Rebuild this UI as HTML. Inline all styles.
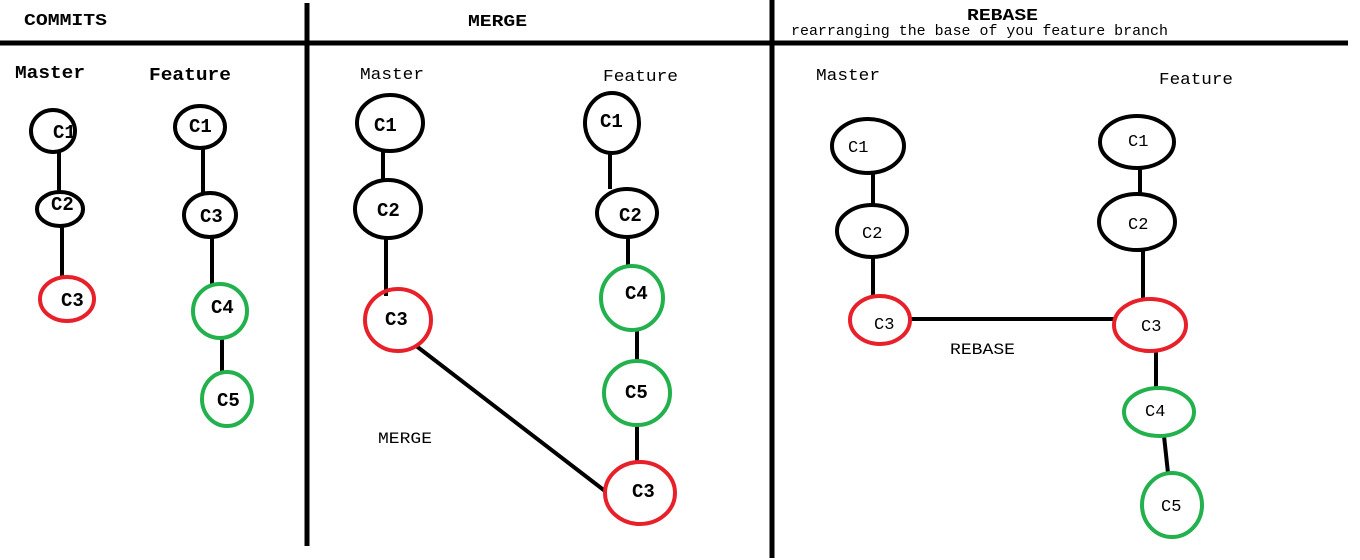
<!DOCTYPE html>
<html><head><style>body{margin:0;background:#fff}svg{display:block}text{font-family:"Liberation Mono","DejaVu Sans Mono",monospace;fill:#000}</style></head>
<body>
<svg width="1360" height="560" viewBox="0 0 1360 560" xmlns="http://www.w3.org/2000/svg">
<g stroke="#000" stroke-width="5" fill="none">
<line x1="0" y1="43" x2="1348" y2="43"/>
<line x1="307" y1="3" x2="307" y2="546"/>
<line x1="772" y1="0" x2="772" y2="558"/>
</g>
<g font-weight="bold" font-size="17">
<text x="24" y="25" textLength="83" lengthAdjust="spacingAndGlyphs">COMMITS</text>
<text x="468" y="26" textLength="59" lengthAdjust="spacingAndGlyphs">MERGE</text>
<text x="967" y="20" textLength="71" lengthAdjust="spacingAndGlyphs">REBASE</text>
<text x="15" y="78" font-size="18" textLength="70" lengthAdjust="spacingAndGlyphs">Master</text>
<text x="149" y="80" font-size="18" textLength="82" lengthAdjust="spacingAndGlyphs">Feature</text>
</g>
<text x="791" y="35" font-size="15" textLength="377" lengthAdjust="spacingAndGlyphs">rearranging the base of you feature branch</text>
<g font-size="17">
<text x="360" y="79" textLength="64" lengthAdjust="spacingAndGlyphs">Master</text>
<text x="603" y="81" textLength="75" lengthAdjust="spacingAndGlyphs">Feature</text>
<text x="816" y="80" textLength="64" lengthAdjust="spacingAndGlyphs">Master</text>
<text x="1159" y="84" textLength="74" lengthAdjust="spacingAndGlyphs">Feature</text>
<text x="378" y="443" font-size="16" textLength="54" lengthAdjust="spacingAndGlyphs">MERGE</text>
<text x="950" y="354" font-size="16" textLength="65" lengthAdjust="spacingAndGlyphs">REBASE</text>
</g>
<g stroke-width="4" fill="none">
<g stroke="#000">
<line x1="59" y1="152" x2="59" y2="192"/><line x1="62" y1="226" x2="62" y2="278"/>
<line x1="203" y1="148" x2="203" y2="194"/><line x1="212" y1="237" x2="212" y2="285"/><line x1="222" y1="338" x2="222" y2="372"/>
<line x1="383" y1="151" x2="383" y2="180"/><line x1="386" y1="238" x2="386" y2="296"/>
<line x1="415" y1="345" x2="605" y2="491"/>
<line x1="610" y1="153" x2="610" y2="189"/><line x1="628" y1="237" x2="628" y2="266"/><line x1="637" y1="330" x2="637" y2="361"/><line x1="637" y1="425" x2="637" y2="462"/>
<line x1="873" y1="173" x2="873" y2="205"/><line x1="873" y1="257" x2="873" y2="296"/>
<line x1="910" y1="319" x2="1115" y2="319"/>
<line x1="1140" y1="168" x2="1140" y2="194"/><line x1="1143" y1="250" x2="1143" y2="300"/><line x1="1156" y1="351" x2="1156" y2="388"/><line x1="1164" y1="436" x2="1168" y2="473"/>
<ellipse cx="53" cy="131" rx="22" ry="21"/><ellipse cx="60" cy="209" rx="23" ry="17"/>
<ellipse cx="200" cy="127" rx="25" ry="21"/><ellipse cx="210" cy="215" rx="26" ry="22"/>
<ellipse cx="390" cy="123" rx="33" ry="28"/><ellipse cx="388" cy="209" rx="33" ry="29"/>
<ellipse cx="612" cy="123" rx="27" ry="30"/><ellipse cx="627" cy="213" rx="30" ry="24"/>
<ellipse cx="868" cy="146" rx="36" ry="27"/><ellipse cx="872" cy="231" rx="35" ry="26"/>
<ellipse cx="1137" cy="142" rx="37" ry="26"/><ellipse cx="1137" cy="222" rx="38" ry="28"/>
</g>
<g stroke="#e8202a">
<ellipse cx="67" cy="299" rx="27" ry="22"/><ellipse cx="398" cy="320" rx="33" ry="31"/><ellipse cx="640" cy="493" rx="35" ry="31"/>
<ellipse cx="880" cy="320" rx="30" ry="24"/><ellipse cx="1150" cy="325" rx="36" ry="26"/>
</g>
<g stroke="#22b14c">
<ellipse cx="220" cy="311" rx="27" ry="27"/><ellipse cx="227" cy="399" rx="25" ry="27"/>
<ellipse cx="632" cy="298" rx="31" ry="32"/><ellipse cx="637" cy="393" rx="33" ry="32"/>
<ellipse cx="1159" cy="412" rx="35" ry="24"/><ellipse cx="1172" cy="505" rx="30" ry="32"/>
</g>
</g>
<g font-size="19" font-weight="bold">
<text x="53" y="138">C1</text><text x="51" y="210">C2</text><text x="61" y="306">C3</text>
<text x="189" y="132">C1</text><text x="200" y="222">C3</text><text x="211" y="313">C4</text><text x="217" y="406">C5</text>
<text x="374" y="131">C1</text><text x="377" y="216">C2</text><text x="385" y="325">C3</text>
<text x="600" y="127">C1</text><text x="619" y="221">C2</text><text x="625" y="299">C4</text><text x="625" y="398">C5</text><text x="632" y="497">C3</text>
</g>
<g font-size="17">
<text x="848" y="152">C1</text><text x="862" y="238">C2</text><text x="874" y="329">C3</text>
<text x="1128" y="146">C1</text><text x="1128" y="229">C2</text><text x="1141" y="331">C3</text><text x="1145" y="416">C4</text><text x="1161" y="511">C5</text>
</g>
</svg>
</body></html>
